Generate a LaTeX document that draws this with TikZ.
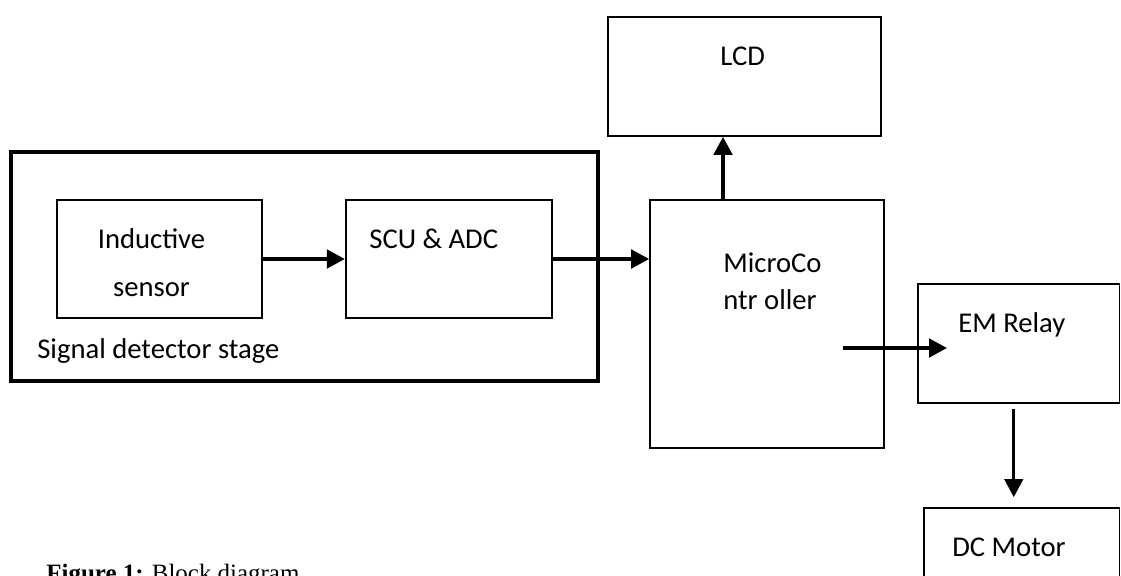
\documentclass[tikz,border=0pt]{standalone}
\usepackage{fontspec}
\setmainfont{Carlito}
\newfontfamily\capfont{Liberation Serif}
\usetikzlibrary{arrows.meta,positioning}

\begin{document}
\begin{tikzpicture}[
  x=0.02cm, y=-0.02cm,
  font=\fontsize{16.3}{27.3}\selectfont,
  block/.style={
    rectangle,
    draw=black,
    line width=1pt,
    inner sep=0pt
  },
  stagebox/.style={block, line width=2.4pt},
  txt/.style={inner sep=0pt, anchor=base west},
  flow/.style={-{Triangle[length=0.36cm,width=0.37cm]}, line width=2pt}
]
\useasboundingbox (0,0) rectangle (1121,575);
\clip (0,0) rectangle (1121,575);

\node[stagebox, minimum width=11.74cm, minimum height=4.58cm] (stage) at (304.5,266.5) {};
\node[block, minimum width=4.1cm, minimum height=2.36cm] (sensor) at (159.5,259) {};
\node[block, minimum width=4.12cm, minimum height=2.36cm, right=1.64cm of sensor] (scu) {};
\node[block, minimum width=4.68cm, minimum height=4.96cm] (micro) at (767,324) {};
\node[block, minimum width=5.46cm, minimum height=2.38cm] (lcd) at (744.5,76.5) {};
\node[block, minimum width=4.03cm, minimum height=2.38cm] (relay) at (1018.75,343.5) {};
\node[block, minimum width=3.91cm, minimum height=2.84cm] (motor) at (1021.75,579) {};

\node[txt, anchor=base, align=center] (sensortxt) at (151.5,296) {Inductive\\sensor};
\node[txt] (scutxt) at (369,248) {SCU \& ADC};
\node[txt] (stagetxt) at (37,358) {Signal detector stage};
\node[txt] (lcdtxt) at (720,65) {LCD};
\node[txt, align=left, font=\fontsize{16.3}{21}\selectfont] (microtxt) at (723,309) {MicroCo\\ntr oller};
\node[txt] (relaytxt) at (958,332) {EM Relay};
\node[txt] (motortxt) at (952,556) {DC Motor};
\node[txt, font=\capfont\fontsize{14.2}{17}\selectfont] (caption) at (46,581) {\textbf{Figure 1:} Block diagram};

\coordinate (mcout) at (843,348);
\coordinate (relayin) at (947,348);

\draw[flow] (sensor) -- (scu);
\draw[flow] (scu.east) -- (scu.east -| micro.west);
\draw[flow] ([xshift=-0.88cm]micro.north) -- ([xshift=-0.88cm]micro.north |- lcd.south);
\draw[flow] (mcout) -- (relayin);
\draw[flow, line width=1.5pt, shorten <=0.1cm, shorten >=0.2cm] ([xshift=-0.1cm]relay.south) -- ([xshift=-0.1cm]relay.south |- motor.north);

\end{tikzpicture}
\end{document}
